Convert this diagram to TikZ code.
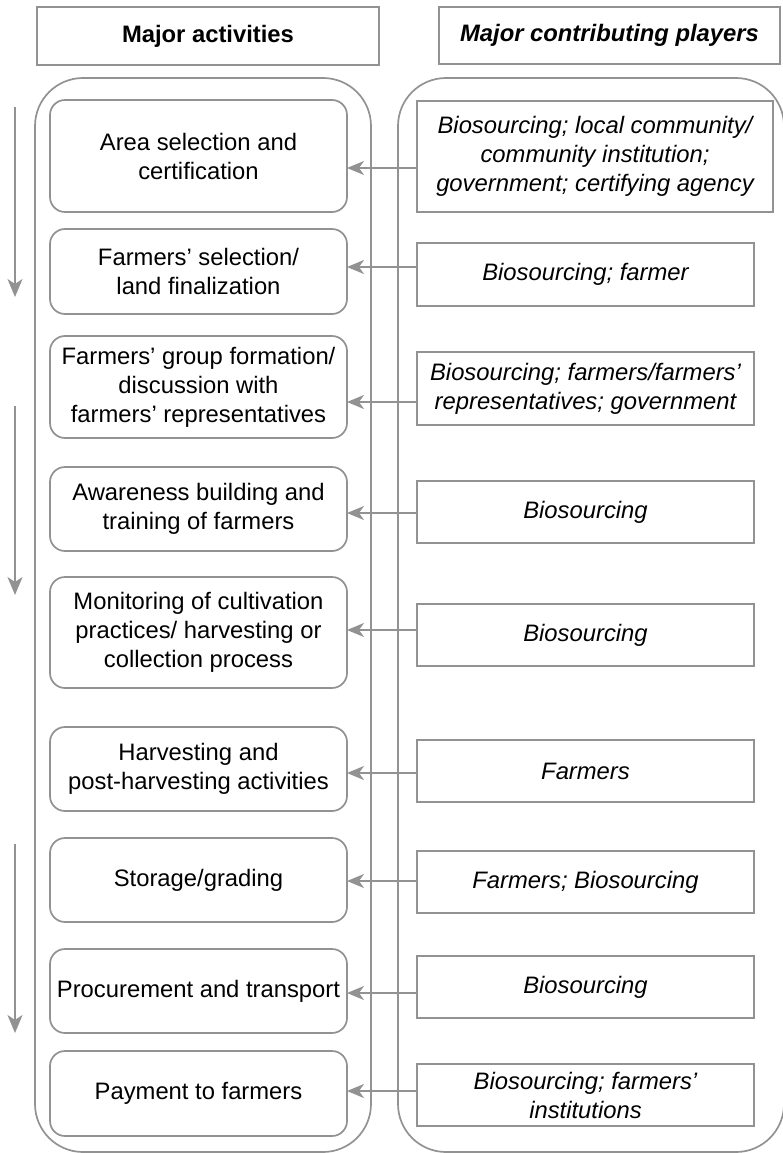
\documentclass[tikz,border=0pt]{standalone}
\usepackage{fontspec}
\setmainfont{Liberation Sans}
\usetikzlibrary{arrows.meta}
\definecolor{edgegray}{RGB}{146,146,146}
\begin{document}
\begin{tikzpicture}[x=1pt,y=-1pt,
  every node/.style={font=\fontsize{23.8}{29}\selectfont, text=black},
  frame/.style={draw=edgegray, line width=1.7pt, inner sep=0pt, outer sep=0pt, align=center},
  header/.style={frame, font=\fontsize{23.8}{29}\selectfont\bfseries},
  column/.style={frame, rounded corners=48pt},
  activity/.style={frame, rounded corners=15pt, minimum width=297, fill=white},
  player/.style={frame, minimum width=337, fill=white, font=\fontsize{23.8}{29}\selectfont\itshape},
  link/.style={draw=edgegray, line width=1.7pt, -{Stealth[length=17pt, width=14pt, inset=5pt]}},
  flow/.style={draw=edgegray, line width=1.7pt, -{Stealth[length=18pt, width=15pt, inset=5pt]}}]
\useasboundingbox (0,0) rectangle (783,1153);

% column headings
\node[header, minimum width=342, minimum height=58] (hact) at (208,36) {Major activities};
\node[header, minimum width=341, minimum height=57, font=\fontsize{23.8}{29}\selectfont\bfseries\itshape] (hplay) at (609.5,35.5) {Major contributing players};

% rounded column frames
\node[column, minimum width=336, minimum height=1074] (actcol) at (203,615) {};
\node[column, minimum width=386, minimum height=1074] (playcol) at (591,615) {};

% activities
\node[activity, minimum height=112] (a1) at (198.5,156) {Area selection and\\certification};
\node[activity, minimum height=85]  (a2) at (198.5,271.5) {Farmers’ selection/\\land finalization};
\node[activity, minimum height=102] (a3) at (198.5,387) {Farmers’ group formation/\\discussion with\\farmers’ representatives};
\node[activity, minimum height=84]  (a4) at (198.5,509) {Awareness building and\\training of farmers};
\node[activity, minimum height=111] (a5) at (198.5,632.5) {Monitoring of cultivation\\practices/ harvesting or\\collection process};
\node[activity, minimum height=84]  (a6) at (198.5,769) {Harvesting and\\post-harvesting activities};
\node[activity, minimum height=84]  (a7) at (198.5,880) {Storage/grading};
\node[activity, minimum height=84]  (a8) at (198.5,991) {Procurement and transport};
\node[activity, minimum height=85]  (a9) at (198.5,1093.5) {Payment to farmers};

% contributing players
\node[player, minimum width=356, minimum height=111] (p1) at (595,156.5) {Biosourcing; local community/\\community institution;\\government; certifying agency};
\node[player, minimum height=63] (p2) at (585.5,274.5) {Biosourcing; farmer};
\node[player, minimum height=73] (p3) at (585.5,388.5) {Biosourcing; farmers/farmers’\\representatives; government};
\node[player, minimum height=62] (p4) at (585.5,512) {Biosourcing};
\node[player, minimum height=62] (p5) at (585.5,635) {Biosourcing};
\node[player, minimum height=62] (p6) at (585.5,771) {Farmers};
\node[player, minimum height=62] (p7) at (585.5,882) {Farmers; Biosourcing};
\node[player, minimum height=62] (p8) at (585.5,987) {Biosourcing};
\node[player, minimum height=62] (p9) at (585.5,1095) {Biosourcing; farmers’\\institutions};

% links from players to activities
\draw[link] (p1.west |- 0,168)  -- (a1.east |- 0,168);
\draw[link] (p2.west |- 0,267)  -- (a2.east |- 0,267);
\draw[link] (p3.west |- 0,402)  -- (a3.east |- 0,402);
\draw[link] (p4.west |- 0,513)  -- (a4.east |- 0,513);
\draw[link] (p5.west |- 0,630)  -- (a5.east |- 0,630);
\draw[link] (p6.west |- 0,773)  -- (a6.east |- 0,773);
\draw[link] (p7.west |- 0,881)  -- (a7.east |- 0,881);
\draw[link] (p8.west |- 0,993)  -- (a8.east |- 0,993);
\draw[link] (p9.west |- 0,1091) -- (a9.east |- 0,1091);

% sequence arrows along the left margin
\coordinate (s1a) at (15,107);  \coordinate (s1b) at (15,297);
\coordinate (s2a) at (15,406);  \coordinate (s2b) at (15,595);
\coordinate (s3a) at (15,844);  \coordinate (s3b) at (15,1033);
\draw[flow] (s1a) -- (s1b);
\draw[flow] (s2a) -- (s2b);
\draw[flow] (s3a) -- (s3b);
\end{tikzpicture}
\end{document}
